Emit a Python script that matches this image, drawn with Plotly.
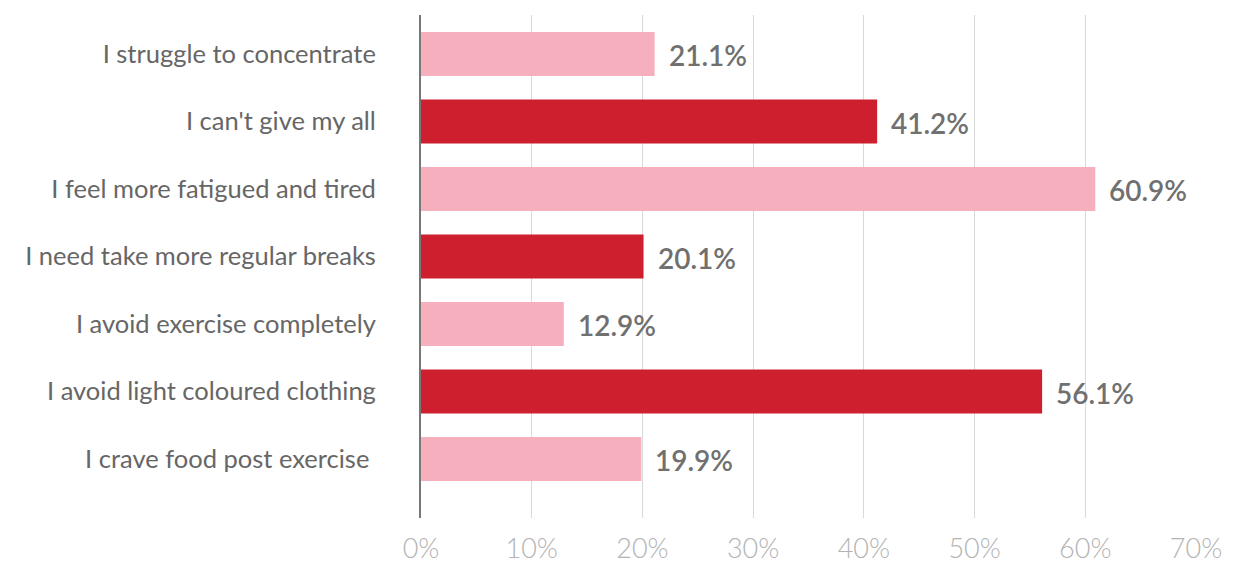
import plotly.graph_objects as go

categories = [
    "I struggle to concentrate",
    "I can't give my all",
    "I feel more fatigued and tired",
    "I need take more regular breaks",
    "I avoid exercise completely",
    "I avoid light coloured clothing",
    "I crave food post exercise ",
]
values = [21.1, 41.2, 60.9, 20.1, 12.9, 56.1, 19.9]
bar_colors = ["#F5AFBD", "#CE1F2F", "#F5AFBD", "#CE1F2F", "#F5AFBD", "#CE1F2F", "#F5AFBD"]
x_ticks = [0, 10, 20, 30, 40, 50, 60, 70]
x_tick_labels = [f"{t}%" for t in x_ticks]

fig = go.Figure()
fig.add_trace(go.Bar(
    x=values, y=categories, orientation="h",
    marker=dict(color=bar_colors, line=dict(width=0)),
    width=0.65, hoverinfo="x+y",
))

for c, v in zip(categories, values):
    fig.add_annotation(
        x=v, y=c, text=f"{v:.1f}%", showarrow=False,
        xanchor="left", xshift=12, yshift=-1,
        font=dict(family="Lato", size=28, color="#707070", weight=600),
    )

fig.update_layout(
    width=1234, height=563,
    margin=dict(l=421, r=38, t=15, b=45),
    paper_bgcolor="white", plot_bgcolor="white",
    showlegend=False,
    font=dict(family="Lato"),
    bargap=0.35,
)
fig.update_xaxes(
    range=[0, 70], tickvals=x_ticks, ticktext=x_tick_labels,
    showgrid=True, gridcolor="#d9d9d9", gridwidth=1,
    zeroline=False, showline=False, automargin=False,
    tickfont=dict(family="Lato", size=27, color="#b3b3b3", weight=300),
    ticks="", ticklabelstandoff=12,
)
fig.update_yaxes(
    categoryorder="array", categoryarray=categories,
    range=[6.874, -0.578], automargin=False,
    showgrid=False, zeroline=False,
    showline=True, linecolor="#777777", linewidth=2,
    tickfont=dict(family="Lato", size=25.5, color="#666666", weight=400),
    ticks="", ticklabelstandoff=38,
)

fig.write_html("out.html")
